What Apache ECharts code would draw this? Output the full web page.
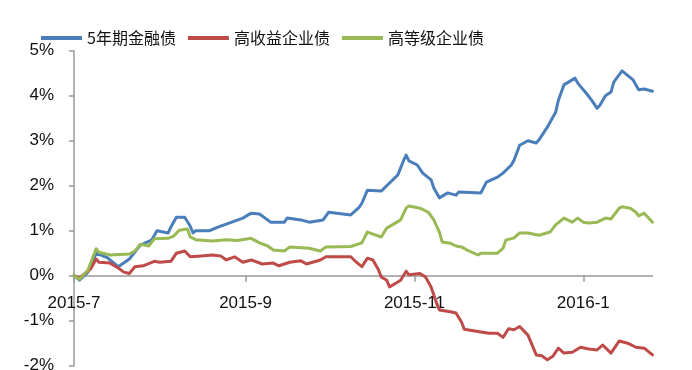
<!DOCTYPE html>
<html>
<head>
<meta charset="utf-8">
<script src="https://cdn.jsdelivr.net/npm/echarts@6/dist/echarts.min.js"></script>
<style>
  html, body { margin: 0; padding: 0; background: #fff; }
  #chart { width: 692px; height: 370px; }
</style>
</head>
<body>
<div id="chart"></div>
<script>
// Cumulative return (%) of three bond indices, July 2015 - January 2016

const seriesNames = ['5年期金融债', '高收益企业债', '高等级企业债'];

const finDates = [
  '2015-07-01','2015-07-03','2015-07-06','2015-07-09','2015-07-13','2015-07-17','2015-07-21','2015-07-25',
  '2015-07-29','2015-07-31','2015-08-04','2015-08-05','2015-08-07','2015-08-10','2015-08-12','2015-08-13',
  '2015-08-14','2015-08-19','2015-08-22','2015-08-26','2015-08-31','2015-09-03','2015-09-06','2015-09-10',
  '2015-09-15','2015-09-16','2015-09-21','2015-09-24','2015-09-29','2015-10-01','2015-10-09','2015-10-12',
  '2015-10-13','2015-10-15','2015-10-20','2015-10-23','2015-10-26','2015-10-28','2015-10-29','2015-10-30',
  '2015-11-02','2015-11-04','2015-11-07','2015-11-08','2015-11-10','2015-11-13','2015-11-16','2015-11-17',
  '2015-11-25','2015-11-27','2015-12-01','2015-12-03','2015-12-06','2015-12-07','2015-12-09','2015-12-12',
  '2015-12-15','2015-12-16','2015-12-19','2015-12-22','2015-12-23','2015-12-25','2015-12-29','2015-12-30',
  '2016-01-02','2016-01-04','2016-01-06','2016-01-07','2016-01-09','2016-01-11','2016-01-12','2016-01-15',
  '2016-01-19','2016-01-21','2016-01-23','2016-01-26'
];
const finValues = [
  0.00,-0.10,0.08,0.50,0.40,0.20,0.37,0.68,
  0.79,1.00,0.95,1.08,1.30,1.30,1.10,0.95,
  1.00,1.00,1.08,1.17,1.28,1.39,1.37,1.19,
  1.19,1.28,1.24,1.19,1.24,1.41,1.35,1.52,
  1.61,1.90,1.88,2.06,2.24,2.55,2.68,2.55,
  2.46,2.28,2.13,1.95,1.73,1.84,1.79,1.86,
  1.84,2.08,2.19,2.28,2.46,2.57,2.90,3.00,
  2.95,3.02,3.30,3.63,3.90,4.24,4.39,4.28,
  4.06,3.90,3.72,3.79,4.00,4.08,4.30,4.55,
  4.35,4.13,4.15,4.10
];

const hyDates = [
  '2015-07-01','2015-07-03','2015-07-05','2015-07-07','2015-07-09','2015-07-10','2015-07-14','2015-07-17',
  '2015-07-19','2015-07-21','2015-07-23','2015-07-26','2015-07-30','2015-08-01','2015-08-05','2015-08-07',
  '2015-08-10','2015-08-12','2015-08-16','2015-08-20','2015-08-23','2015-08-25','2015-08-28','2015-08-31',
  '2015-09-03','2015-09-07','2015-09-11','2015-09-13','2015-09-17','2015-09-21','2015-09-23','2015-09-28',
  '2015-09-30','2015-10-09','2015-10-11','2015-10-13','2015-10-15','2015-10-17','2015-10-19','2015-10-20',
  '2015-10-22','2015-10-23','2015-10-27','2015-10-29','2015-10-30','2015-11-03','2015-11-05','2015-11-07',
  '2015-11-09','2015-11-10','2015-11-14','2015-11-16','2015-11-18','2015-11-19','2015-11-25','2015-11-28',
  '2015-12-01','2015-12-03','2015-12-05','2015-12-07','2015-12-09','2015-12-12','2015-12-15','2015-12-17',
  '2015-12-19','2015-12-21','2015-12-23','2015-12-25','2015-12-28','2015-12-31','2016-01-03','2016-01-06',
  '2016-01-08','2016-01-11','2016-01-14','2016-01-17','2016-01-20','2016-01-23','2016-01-26'
];
const hyValues = [
  0.00,-0.05,0.05,0.15,0.37,0.30,0.28,0.17,
  0.08,0.05,0.20,0.22,0.32,0.30,0.32,0.50,
  0.55,0.42,0.44,0.46,0.44,0.35,0.42,0.30,
  0.35,0.26,0.28,0.22,0.30,0.33,0.26,0.35,
  0.42,0.42,0.30,0.20,0.39,0.35,0.13,-0.03,
  -0.10,-0.25,-0.10,0.10,0.02,0.05,-0.03,-0.25,
  -0.61,-0.76,-0.80,-0.83,-1.03,-1.19,-1.25,-1.28,
  -1.28,-1.37,-1.18,-1.20,-1.13,-1.32,-1.76,-1.78,
  -1.87,-1.79,-1.61,-1.72,-1.70,-1.59,-1.63,-1.65,
  -1.54,-1.72,-1.45,-1.50,-1.59,-1.61,-1.76
];

const hgDates = [
  '2015-07-01','2015-07-03','2015-07-06','2015-07-09','2015-07-10','2015-07-14','2015-07-21','2015-07-23',
  '2015-07-25','2015-07-28','2015-07-30','2015-08-04','2015-08-06','2015-08-08','2015-08-11','2015-08-12',
  '2015-08-14','2015-08-20','2015-08-25','2015-08-29','2015-09-03','2015-09-06','2015-09-09','2015-09-11',
  '2015-09-15','2015-09-17','2015-09-24','2015-09-28','2015-09-30','2015-10-09','2015-10-13','2015-10-15',
  '2015-10-20','2015-10-22','2015-10-24','2015-10-27','2015-10-29','2015-10-30','2015-11-03','2015-11-06',
  '2015-11-08','2015-11-10','2015-11-11','2015-11-14','2015-11-16','2015-11-18','2015-11-20','2015-11-24',
  '2015-11-25','2015-12-01','2015-12-03','2015-12-04','2015-12-07','2015-12-09','2015-12-12','2015-12-16',
  '2015-12-20','2015-12-22','2015-12-25','2015-12-28','2015-12-30','2016-01-01','2016-01-03','2016-01-06',
  '2016-01-09','2016-01-11','2016-01-14','2016-01-15','2016-01-18','2016-01-20','2016-01-21','2016-01-23',
  '2016-01-26'
];
const hgValues = [
  0.00,-0.08,0.12,0.60,0.52,0.46,0.48,0.55,
  0.70,0.66,0.82,0.83,0.88,1.01,1.04,0.86,
  0.80,0.77,0.80,0.78,0.83,0.73,0.66,0.57,
  0.55,0.64,0.61,0.55,0.64,0.65,0.73,0.97,
  0.86,1.06,1.13,1.24,1.50,1.55,1.50,1.41,
  1.24,0.97,0.75,0.72,0.66,0.64,0.57,0.46,
  0.50,0.50,0.61,0.79,0.84,0.95,0.95,0.90,
  0.97,1.13,1.28,1.19,1.28,1.19,1.17,1.19,
  1.28,1.26,1.50,1.53,1.50,1.41,1.33,1.39,
  1.19
];

// Axis range and labelled dates
const axisStart = '2015-07-01';
const axisEnd = '2016-01-26';
const tickDates = ['2015-07-01', '2015-09-01', '2015-11-01', '2016-01-01'];
const yMin = -2, yMax = 5, yStep = 1;

const colors = ['#4a7ebb', '#be4b48', '#98b954'];

// Dates become day numbers on a plain numeric axis
const DAY = 86400000;
const toDay = s => Math.round(Date.UTC(+s.slice(0, 4), +s.slice(5, 7) - 1, +s.slice(8, 10)) / DAY);
const dayLabel = v => { const d = new Date(Math.round(v) * DAY); return d.getUTCFullYear() + '-' + (d.getUTCMonth() + 1); };
const pairs = (dates, vals) => dates.map((d, i) => [toDay(d), vals[i]]);
const tickDays = tickDates.map(toDay);

// Plot box; the date axis sits on the 0% line
const gridTop = 50.7, gridBottom = 4.3;
const plotHeight = 370 - gridTop - gridBottom;
const zeroOffset = -plotHeight * (0 - yMin) / (yMax - yMin);

const chart = echarts.init(document.getElementById('chart'), null, { renderer: 'canvas' });

const axisFont = { fontFamily: 'Liberation Sans, Arial, sans-serif', fontSize: 17, color: '#111' };

chart.setOption({
  animation: false,
  color: colors,
  legend: {
    left: 36,
    top: 25,
    itemWidth: 41,
    itemHeight: 4,
    itemGap: 12,
    icon: 'rect',
    textStyle: { fontFamily: 'Noto Sans CJK SC, sans-serif', fontSize: 16, color: '#111' },
    data: seriesNames
  },
  grid: { left: 74, right: 39.5, top: gridTop, bottom: gridBottom, containLabel: false, outerBoundsMode: 'none' },
  xAxis: {
    type: 'value',
    position: 'bottom',
    offset: zeroOffset,
    min: toDay(axisStart),
    max: toDay(axisEnd),
    axisLine: { onZero: false, lineStyle: { color: '#999', width: 1.5 } },
    axisTick: { show: true, length: 6, inside: false, customValues: tickDays, lineStyle: { color: '#999', width: 1.5 } },
    axisLabel: Object.assign({ customValues: tickDays, margin: 19, formatter: dayLabel }, axisFont),
    splitLine: { show: false }
  },
  yAxis: {
    type: 'value',
    min: yMin,
    max: yMax,
    interval: yStep,
    axisLine: { show: true, onZero: false, lineStyle: { color: '#999', width: 1.5 } },
    axisTick: { show: true, length: 5, lineStyle: { color: '#999', width: 1.5 } },
    axisLabel: Object.assign({ margin: 20, formatter: '{value}%' }, axisFont),
    splitLine: { show: false }
  },
  series: [
    { name: seriesNames[0], type: 'line', data: pairs(finDates, finValues) },
    { name: seriesNames[1], type: 'line', data: pairs(hyDates, hyValues) },
    { name: seriesNames[2], type: 'line', data: pairs(hgDates, hgValues) }
  ].map(s => Object.assign(s, {
    showSymbol: false,
    symbol: 'none',
    lineStyle: { width: 3, join: 'round', cap: 'round' },
    emphasis: { disabled: true }
  }))
});
</script>
</body>
</html>
